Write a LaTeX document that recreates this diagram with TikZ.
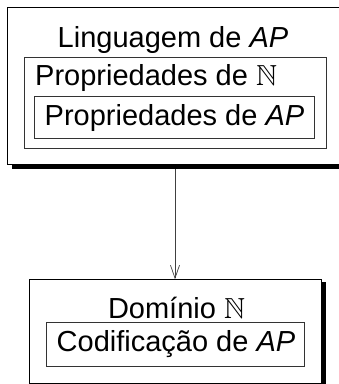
\documentclass[tikz,border=0pt]{standalone}
\usepackage{amssymb}
\DeclareFontFamily{U}{msb}{}
\DeclareFontShape{U}{msb}{m}{n}{<-> msbm10}{}
\usepackage{fontspec}
\setmainfont{Liberation Sans}
\usetikzlibrary{arrows.meta}
\begin{document}
\begin{tikzpicture}[x=1pt,y=-1pt,
  box/.style={draw=black, line width=0.7pt, fill=white, inner sep=0pt},
  innerbox/.style={draw=black!80, line width=0.6pt, inner sep=0pt},
  shadowbox/.style={fill=black, draw=none},
  lbl/.style={inner sep=0pt, font=\fontsize{29}{34}\selectfont},
  conn/.style={draw=black!75, line width=0.7pt, -{Straight Barb[length=13pt,width=9pt]}}]
\useasboundingbox (0,0) rectangle (339,384);
\clip (0,0) rectangle (339,384);
% top group
\fill[shadowbox] (11.5,10.5) rectangle (352,169);
\draw[box] (7.5,7.5) rectangle (348,164.5);
\coordinate (topS) at (175,169);
\draw[innerbox] (24,57) rectangle (326,148.5);
\draw[innerbox] (34,96.5) rectangle (314,138.5);
\node[lbl, anchor=base] (t1) at (173,47) {Linguagem de \textit{AP}};
\node[lbl, anchor=base west] (t2) at (35,85) {Propriedades de $\mathbb{N}$};
\node[lbl, anchor=base] (t3) at (174.5,125) {Propriedades de \textit{AP}};
% bottom group
\fill[shadowbox] (33,282) rectangle (325.5,390);
\draw[box] (29,279.5) rectangle (321,383.5);
\node[inner sep=0pt, minimum size=0pt] (bot) at (175,279.5) {};
\draw[innerbox] (46,322) rectangle (304,366);
\node[lbl, anchor=base] (t4) at (176.5,318) {Domínio $\mathbb{N}$};
\node[lbl, anchor=base] (t5) at (176,351) {Codificação de \textit{AP}};
% connector
\draw[conn] (topS) -- (bot);
\end{tikzpicture}
\end{document}
